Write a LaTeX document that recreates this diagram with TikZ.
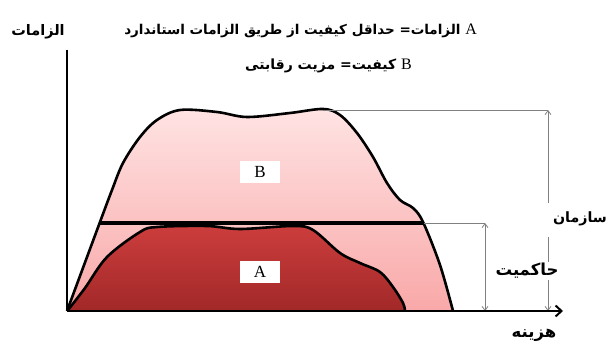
\documentclass[tikz,border=0pt]{standalone}
\usepackage{fontspec}
\usetikzlibrary{arrows.meta}
\TeXXeTstate=1
\newfontfamily\arabicfont[Script=Arabic]{DejaVu Sans}
\setmainfont{Liberation Serif}
\definecolor{btop}{HTML}{FFE3E3}
\definecolor{bbot}{HTML}{F9A8A8}
\definecolor{atop}{HTML}{CC3D3D}
\definecolor{abot}{HTML}{A22828}
\definecolor{guide}{HTML}{808080}
\tikzset{
  curveline/.style={line width=2.6pt, line join=round},
  guideline/.style={draw=guide, line width=0.8pt},
  guidearrow/.style={guideline, {Straight Barb[length=4pt,width=6pt]}-{Straight Barb[length=4pt,width=6pt]}},
  guidetop/.style={guideline, {Straight Barb[length=4pt,width=6pt]}-},
  guidebot/.style={guideline, -{Straight Barb[length=4pt,width=6pt]}},
  letterbox/.style={fill=white, minimum width=40pt, minimum height=22pt, inner sep=0pt, font=\fontsize{17}{17}\selectfont},
  fatext/.style={font=\arabicfont\bfseries\fontsize{13.5}{15}\selectfont, inner sep=1pt},
  falabel/.style={font=\arabicfont\bfseries\fontsize{16.5}{18}\selectfont, inner sep=1pt},
}
\begin{document}
\begin{tikzpicture}[x=1pt,y=-1pt]
\useasboundingbox (0,0) rectangle (609,347);
% outer region B
\path[top color=btop, bottom color=bbot]
  (67,311) -- (100,222)
  -- plot[smooth, tension=0.55] coordinates {(100,222) (112,190) (123,163) (140,137) (157,120) (180,110) (217,112) (247,117) (290,113) (323,109) (340,115) (357,133) (373,157) (387,183) (400,200) (413,208) (423,222) (440,265) (453,311)}
  -- cycle;
\draw[curveline]
  (67,311) -- (100,222)
  -- plot[smooth, tension=0.55] coordinates {(100,222) (112,190) (123,163) (140,137) (157,120) (180,110) (217,112) (247,117) (290,113) (323,109) (340,115) (357,133) (373,157) (387,183) (400,200) (413,208) (423,222) (440,265) (453,311)};
% inner region A
\path[top color=atop, bottom color=abot]
  plot[smooth, tension=0.55] coordinates {(68,310) (85,288) (107,257) (140,232) (157,227) (207,226) (240,229) (293,226) (313,230) (340,253) (360,263) (380,272) (393,287) (403,303) (405,311)}
  -- cycle;
\draw[curveline]
  plot[smooth, tension=0.55] coordinates {(68,310) (85,288) (107,257) (140,232) (157,227) (207,226) (240,229) (293,226) (313,230) (340,253) (360,263) (380,272) (393,287) (403,303) (405,311)};
% horizontal line
\coordinate (hl) at (100,223);
\coordinate (hr) at (424,223);
\draw[line width=3.8pt] (hl) -- (hr);
% guides
\coordinate (gt) at (323,110);
\coordinate (gtr) at (548,110);
\coordinate (gmr) at (485,223);
\coordinate (gbr1) at (485,311);
\coordinate (gbr2) at (548,311);
\coordinate (gap1) at (548,203);
\coordinate (gap2) at (548,237);
\draw[guideline] (gt) -- (gtr);
\draw[guideline] (hr) -- (gmr);
\draw[guidearrow] (gmr) -- (gbr1);
\draw[guidetop] (gtr) -- (gap1);
\draw[guidebot] (gap2) -- (gbr2);
% axes
\coordinate (o) at (67,311);
\coordinate (ytop) at (67,50);
\coordinate (xend) at (563,311);
\draw[line width=2.4pt] (ytop) -- (o);
\draw[line width=2.4pt, -{Straight Barb[length=6pt,width=11pt,line width=2pt]}] (o) -- (xend);
% letter boxes
\node[letterbox] (B) at (260,172) {B};
\node[letterbox] (A) at (260,272) {A};
% labels
\node[falabel, font=\arabicfont\bfseries\fontsize{14.2}{16}\selectfont, anchor=east] (org) at (608,219) {\beginR سازمان\endR};
\node[falabel, fill=white] (gov) at (527,271) {\beginR حاکمیت\endR};
\node[falabel] (cost) at (534,335) {\beginR هزینه\endR};
\node[falabel, font=\arabicfont\bfseries\fontsize{14.5}{16}\selectfont] (req) at (38,32) {\beginR الزامات\endR};
\node[fatext, anchor=east] (t1) at (478,31) {\beginR {\rmfamily\mdseries\fontsize{16}{16}\selectfont A} الزامات= حداقل کیفیت از طریق الزامات استاندارد\endR};
\node[fatext, font=\arabicfont\bfseries\fontsize{14}{16}\selectfont, anchor=east] (t2) at (413,66) {\beginR {\rmfamily\mdseries\fontsize{16}{16}\selectfont B} کیفیت= مزیت رقابتی\endR};
\end{tikzpicture}
\end{document}
